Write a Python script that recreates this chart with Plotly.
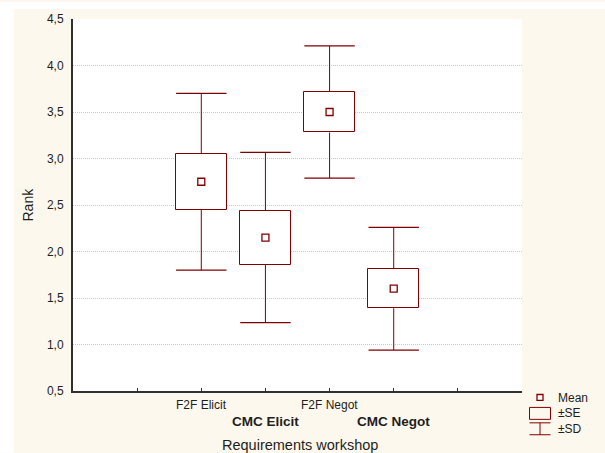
import plotly.graph_objects as go

# ---- data ----
categories = ["F2F Elicit", "CMC Elicit", "F2F Negot", "CMC Negot"]
label_bold = [False, True, False, True]
means = [2.75, 2.15, 3.50, 1.60]
se = [0.30, 0.29, 0.22, 0.21]
sd = [0.95, 0.915, 0.71, 0.66]
y_ticks = [0.5, 1.0, 1.5, 2.0, 2.5, 3.0, 3.5, 4.0, 4.5]

# ---- layout geometry ----
W, H = 605, 453
ML, MR, MT, MB = 73, 83, 17, 62
PW, PH = W - ML - MR, H - MT - MB
RED = "#800000"
CREAM = "#fdf8ed"
TXT = "#1e1e1e"
FONT = "Liberation Sans, Arial, sans-serif"


def px(xpix):
    return (xpix - ML) / PW


def py(ypix):
    return (H - MB - ypix) / PH


xs = list(range(1, len(categories) + 1))
lo_se = [m - s for m, s in zip(means, se)]
hi_se = [m + s for m, s in zip(means, se)]
lo_sd = [m - d for m, d in zip(means, sd)]
hi_sd = [m + d for m, d in zip(means, sd)]

# whisker segments (box edge -> SD end), separated by None
wx, wy = [], []
for x, a, b, c, d in zip(xs, hi_se, hi_sd, lo_se, lo_sd):
    wx += [x, x, None, x, x, None]
    wy += [a, b, None, c, d, None]

fig = go.Figure()

# SE box
fig.add_trace(go.Bar(
    x=xs, y=[2 * s for s in se], base=lo_se, width=0.8,
    marker=dict(color="white", line=dict(color=RED, width=1)),
    hoverinfo="skip", showlegend=False))
# whisker stems
fig.add_trace(go.Scatter(
    x=wx, y=wy, mode="lines", line=dict(color=RED, width=1),
    hoverinfo="skip", showlegend=False))
# whisker caps
fig.add_trace(go.Scatter(
    x=xs + xs, y=hi_sd + lo_sd, mode="markers",
    marker=dict(symbol="line-ew", size=36, color=RED, line=dict(width=1.2, color=RED)),
    hoverinfo="skip", showlegend=False))
# mean marker
fig.add_trace(go.Scatter(
    x=xs, y=means, mode="markers",
    marker=dict(symbol="square-open", size=7, color=RED, line=dict(width=1.3, color=RED)),
    showlegend=False))

shapes = []
# white strips outside the cream panel
shapes.append(dict(type="rect", xref="paper", yref="paper", layer="above",
                   x0=px(0), x1=px(14), y0=py(H), y1=py(0),
                   fillcolor="white", line=dict(width=0)))
shapes.append(dict(type="rect", xref="paper", yref="paper", layer="above",
                   x0=px(0), x1=px(W), y0=py(7), y1=py(0),
                   fillcolor="white", line=dict(width=0)))
# legend glyphs
lx0, lx1, lxc = 529.5, 550.5, 540
shapes.append(dict(type="rect", xref="paper", yref="paper",
                   x0=px(537), x1=px(543), y0=py(400.5), y1=py(394.5),
                   line=dict(color=RED, width=1.3), fillcolor="white"))
shapes.append(dict(type="rect", xref="paper", yref="paper",
                   x0=px(lx0), x1=px(lx1), y0=py(419.5), y1=py(407.5),
                   line=dict(color=RED, width=1), fillcolor="rgba(0,0,0,0)"))
shapes.append(dict(type="line", xref="paper", yref="paper",
                   x0=px(lx0), x1=px(lx1), y0=py(423), y1=py(423),
                   line=dict(color=RED, width=1)))
shapes.append(dict(type="line", xref="paper", yref="paper",
                   x0=px(lxc), x1=px(lxc), y0=py(423), y1=py(435),
                   line=dict(color=RED, width=1)))
shapes.append(dict(type="line", xref="paper", yref="paper",
                   x0=px(lx0), x1=px(lx1), y0=py(435), y1=py(435),
                   line=dict(color=RED, width=1)))

annotations = []
for i, (c, b) in enumerate(zip(categories, label_bold)):
    annotations.append(dict(
        x=xs[i], xref="x", y=py(421.5 if b else 405), yref="paper",
        text=f"<b>{c}</b>" if b else c, showarrow=False,
        xanchor="center", yanchor="middle",
        font=dict(family=FONT, size=13.5 if b else 12, color=TXT)))
annotations.append(dict(x=px(300), y=py(445.5), xref="paper", yref="paper",
                        text="Requirements workshop", showarrow=False,
                        xanchor="center", yanchor="middle",
                        font=dict(family=FONT, size=14.5, color=TXT)))
annotations.append(dict(x=px(27.5), y=0.5, xref="paper", yref="paper",
                        text="Rank", textangle=-90, showarrow=False,
                        xanchor="center", yanchor="middle",
                        font=dict(family=FONT, size=14, color=TXT)))
for t, yy in [("Mean", 397.7), ("±SE", 413.5), ("±SD", 429.5)]:
    annotations.append(dict(x=px(555.5), y=py(yy), xref="paper", yref="paper",
                            text=t, showarrow=False, xanchor="left", yanchor="middle",
                            font=dict(family=FONT, size=12, color=TXT)))

fig.update_layout(
    width=W, height=H,
    margin=dict(l=ML, r=MR, t=MT, b=MB, pad=0),
    paper_bgcolor=CREAM, plot_bgcolor="white",
    separators=",.",
    font=dict(family=FONT, size=12, color=TXT),
    showlegend=False,
    bargap=0,
    shapes=shapes, annotations=annotations,
    xaxis=dict(range=[-1, 6], tickvals=[0, 1, 2, 3, 4, 5], showticklabels=False,
               ticks="inside", ticklen=3, tickcolor="#303030", tickwidth=1,
               showgrid=False, zeroline=False,
               showline=True, linecolor="#303030", linewidth=2),
    xaxis2=dict(range=[-1, 6], overlaying="x", side="top", tickvals=[0, 1, 2, 3, 4, 5],
                showticklabels=False, ticks="inside", ticklen=3, tickcolor="#303030",
                showgrid=False, zeroline=False,
                showline=True, linecolor="#606060", linewidth=1.5),
    yaxis=dict(range=[0.5, 4.5], tickvals=y_ticks, tickformat=".1f",
               ticks="", ticklabelstandoff=5,
               tickfont=dict(family=FONT, size=12, color=TXT),
               showgrid=True, gridcolor="#c8c8c8", gridwidth=1, griddash="1px,1px",
               zeroline=False, showline=True, linecolor="#303030", linewidth=2),
    yaxis2=dict(range=[0.5, 4.5], overlaying="y", side="right", showticklabels=False,
                ticks="", showgrid=False, zeroline=False,
                showline=True, linecolor="#101010", linewidth=1.5),
)

fig.write_html("out.html", config={"displayModeBar": False},
               post_script="document.body.style.margin='0';document.body.style.overflow='hidden';")
